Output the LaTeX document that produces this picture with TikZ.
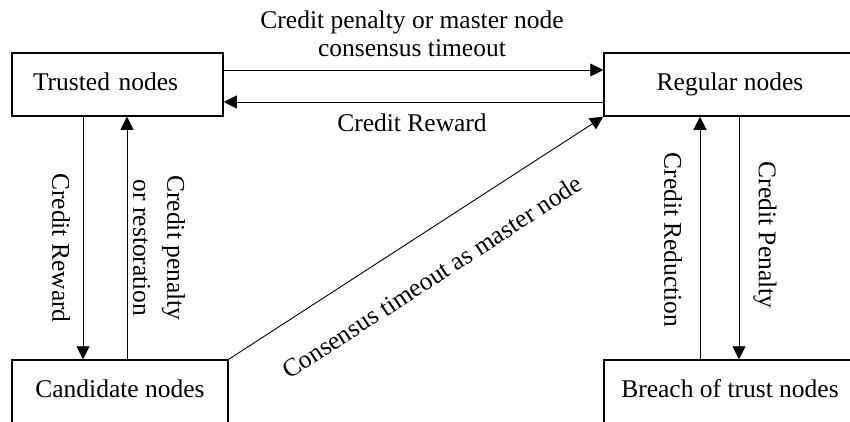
\documentclass[tikz,border=0pt]{standalone}
\usepackage{fontspec}
\setmainfont{Liberation Serif}
\usetikzlibrary{arrows.meta,calc}
\begin{document}
\begin{tikzpicture}[x=1pt,y=-1pt,
  font=\fontsize{25.5}{28}\selectfont,
  box/.style={draw, line width=1.5pt, minimum height=63pt, text height=17pt, text depth=5pt, inner sep=0pt},
  arr/.style={line width=0.9pt, -{Triangle[length=13pt,width=13pt]}},
  lbl/.style={inner sep=0pt}]
\useasboundingbox (0,0) rectangle (850,421);
\clip (0,0) rectangle (850,421);
\node[box, minimum width=211pt, text width=169pt, align=left] (T) at (117.5,84.5) {Trusted nodes};
\node[box, minimum width=252pt] (R) at (730,84.5) {Regular nodes};
\node[box, minimum width=216pt] (C) at (120,391.5) {Candidate nodes};
\node[box, minimum width=252pt] (B) at (730,391.5) {Breach of trust nodes};
\draw[arr] ([yshift=14.5pt]T.east) -- ([yshift=14.5pt]R.west);
\draw[arr] ([yshift=-17.5pt]R.west) -- ([yshift=-17.5pt]T.east);
\draw[arr] ([xshift=-34.5pt]T.south) -- ([xshift=-34.5pt]T.south |- C.north);
\draw[arr] ([xshift=9.5pt]T.south |- C.north) -- ([xshift=9.5pt]T.south);
\draw[arr] ([xshift=-30pt]R.south |- B.north) -- ([xshift=-30pt]R.south);
\draw[arr] ([xshift=9pt]R.south) -- ([xshift=9pt]R.south |- B.north);
\draw[arr] (C.north east) -- (R.south west);
\node[lbl, align=center] (l1) at (412,34) {Credit penalty or master node\\consensus timeout};
\node[lbl, anchor=base] (l2) at (412,131) {Credit Reward};
\node[lbl, rotate=-90] (l3) at (61,248) {Credit Reward};
\node[lbl, rotate=-90, align=center, font=\fontsize{25.5}{34}\selectfont] (l4) at (159,248) {Credit penalty\\or restoration};
\node[lbl, rotate=-90] (l5) at (673,240) {Credit Reduction};
\node[lbl, rotate=-90] (l6) at (765,235) {Credit Penalty};
\node[lbl, rotate=33] (l7) at (432,277) {Consensus timeout as master node};
\end{tikzpicture}
\end{document}
